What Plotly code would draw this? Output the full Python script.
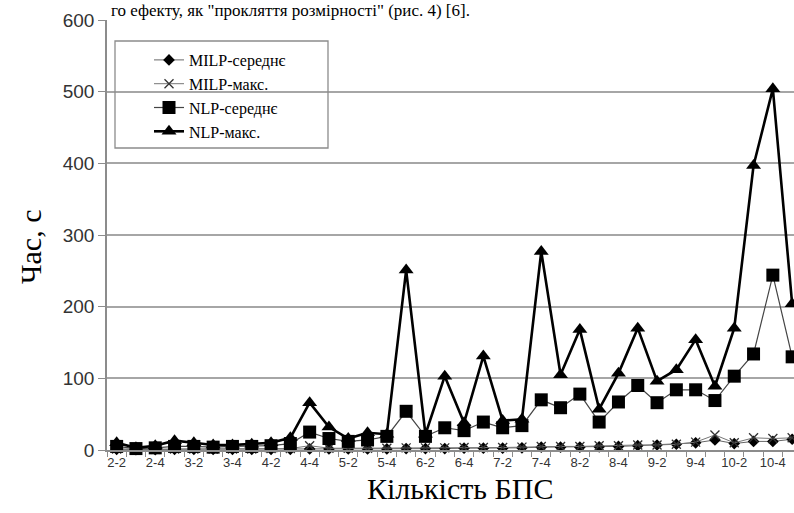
import plotly.graph_objects as go

categories = ["2-2", "2-3", "2-4", "2-5", "3-2", "3-3", "3-4", "3-5", "4-2", "4-3", "4-4", "4-5",
              "5-2", "5-3", "5-4", "5-5", "6-2", "6-3", "6-4", "6-5", "7-2", "7-3", "7-4", "7-5",
              "8-2", "8-3", "8-4", "8-5", "9-2", "9-3", "9-4", "9-5", "10-2", "10-3", "10-4", "10-5"]

milp_mean = [1, 0.5, 0.5, 1, 1, 1, 1, 1, 1, 1, 1.5, 1.5, 1.5, 1.5, 1.5, 2, 2, 2, 2.5, 2.5, 2.5, 3,
             4, 4, 4, 4.5, 5, 6, 7, 8, 10, 14, 9, 12, 12, 15]
milp_max = [1.5, 1, 1, 1.5, 1.5, 1.5, 1.5, 1.5, 2, 2, 6, 2.5, 2.5, 2.5, 2.5, 3, 3, 3, 3.5, 3.5, 3.5, 4,
            5, 5, 5, 6, 6, 7, 7, 8, 11, 21, 10, 17, 16, 17]
nlp_mean = [5, 2, 3, 5, 5, 4, 5, 5, 6, 9, 25, 16, 12, 14, 19, 54, 19, 31, 27, 39, 31, 34,
            70, 59, 78, 39, 67, 90, 66, 84, 84, 69, 103, 134, 244, 130]
nlp_max = [10, 3, 6, 13, 10, 7, 7, 8, 10, 17, 66, 32, 16, 24, 22, 251, 22, 103, 38, 131, 41, 43,
           277, 105, 168, 57, 107, 170, 96, 112, 154, 89, 170, 397, 504, 204]

series_names = ["MILP-середнє", "MILP-макс.", "NLP-середнє", "NLP-макс."]
y_ticks = [0, 100, 200, 300, 400, 500, 600]
x_title = "Кількість БПС"
y_title = "Час, с"
top_text = 'го ефекту, як "прокляття розмірності" (рис. 4) [6].'

x_idx = list(range(len(categories)))

# pixel layout helpers
W, H = 794, 513
L, R, T, B = 107, 0, 20, 63
pw, ph = W - L - R, H - T - B


def px_x(px):
    return (px - L) / pw


def px_y(py):
    return (H - B - py) / ph


fig = go.Figure()
fig.add_trace(go.Scatter(
    x=x_idx, y=milp_mean, name=series_names[0], mode="lines+markers",
    line=dict(color="#666666", width=1),
    marker=dict(symbol="diamond", size=9, color="black"), cliponaxis=False))
fig.add_trace(go.Scatter(
    x=x_idx, y=milp_max, name=series_names[1], mode="lines+markers",
    line=dict(color="#777777", width=1),
    marker=dict(symbol="x-thin", size=9, color="black", line=dict(width=1.3, color="#333333")),
    cliponaxis=False))
fig.add_trace(go.Scatter(
    x=x_idx, y=nlp_mean, name=series_names[2], mode="lines+markers",
    line=dict(color="#444444", width=1.2),
    marker=dict(symbol="square", size=13, color="black"), cliponaxis=False))
fig.add_trace(go.Scatter(
    x=x_idx, y=nlp_max, name=series_names[3], mode="lines+markers",
    line=dict(color="black", width=2.6),
    marker=dict(symbol="triangle-up", size=13, color="black"), cliponaxis=False))

fig.update_layout(
    width=W, height=H,
    margin=dict(l=L, r=R, t=T, b=B, pad=0),
    paper_bgcolor="white", plot_bgcolor="white",
    showlegend=True,
    legend=dict(x=px_x(149), y=px_y(43), xanchor="left", yanchor="top",
                bgcolor="rgba(0,0,0,0)", borderwidth=0,
                font=dict(family="Liberation Serif", size=16, color="black"),
                tracegroupgap=0, itemwidth=30),
    font=dict(family="Liberation Sans", color="#333333"),
)

fig.update_xaxes(
    range=[-0.5, (W - (L + 9.65)) / 19.3],
    tickmode="array", tickvals=x_idx[::2], ticktext=categories[::2],
    ticks="", showgrid=False, zeroline=False,
    showline=True, linecolor="#8c8c8c", linewidth=1.5,
    tickfont=dict(family="Liberation Sans", size=13, color="#333333"),
    minor=dict(ticks="outside", tick0=-0.5, dtick=1, ticklen=5, tickcolor="#8c8c8c", tickwidth=1),
)
fig.update_yaxes(
    range=[0, 600], tickmode="array", tickvals=y_ticks,
    ticks="outside", ticklen=7, tickcolor="#8c8c8c", tickwidth=1.2,
    showgrid=True, gridcolor="#a6a6a6", gridwidth=1.5, zeroline=False,
    showline=True, linecolor="#8c8c8c", linewidth=1.5,
    tickfont=dict(family="Liberation Sans", size=19, color="#333333"),
)

# axis titles
fig.add_annotation(text=x_title, xref="paper", yref="paper", x=px_x(460), y=px_y(488),
                   xanchor="center", yanchor="middle", showarrow=False,
                   font=dict(family="Liberation Serif", size=30, color="black"))
fig.add_annotation(text=y_title, xref="paper", yref="paper", x=px_x(30), y=px_y(247),
                   xanchor="center", yanchor="middle", showarrow=False, textangle=-90,
                   font=dict(family="Liberation Serif", size=30, color="black"))

# legend frame
fig.add_shape(type="rect", xref="paper", yref="paper",
              x0=px_x(115), x1=px_x(328), y0=px_y(148), y1=px_y(41),
              line=dict(color="#8c8c8c", width=1.3), fillcolor="rgba(0,0,0,0)", layer="above")

# document text above the chart (kept fully visible)
fig.add_annotation(text=top_text,
                   xref="paper", yref="paper", x=px_x(290), y=px_y(-1),
                   xanchor="center", yanchor="top", showarrow=False,
                   font=dict(family="Liberation Serif", size=17, color="black"))

fig.write_html("out.html", config={"displayModeBar": False},
               post_script="document.body.style.margin='0';document.body.style.overflow='hidden';")
